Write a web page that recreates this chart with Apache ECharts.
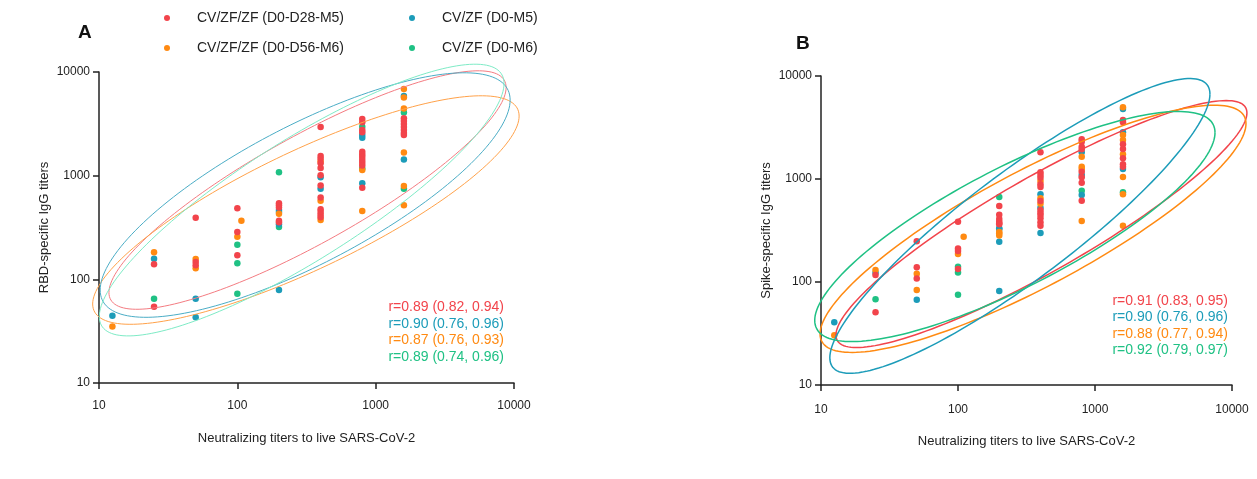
<!DOCTYPE html>
<html>
<head>
<meta charset="utf-8">
<script src="https://cdn.jsdelivr.net/npm/echarts@6/dist/echarts.min.js"></script>
<style>
html,body{margin:0;padding:0;background:#fff;}
#c{width:1257px;height:479px;}
</style>
</head>
<body>
<div id="c"></div>
<script>
// ---------- DATA ----------
const groupNames = ['CV/ZF/ZF (D0-D28-M5)', 'CV/ZF/ZF (D0-D56-M6)', 'CV/ZF (D0-M5)', 'CV/ZF (D0-M6)'];
const xTicks = [10, 100, 1000, 10000];
const yTicks = [10, 100, 1000, 10000];

// Panel A: RBD-specific IgG vs neutralizing titers
const redA = [[25,140],[25,54.5],[50,393],[50,147],[50,137],[100,484],[100,286],[100,171],
  [200,541],[200,517],[200,494],[200,367],[200,355],
  [400,2944],[400,1545],[400,1456],[400,1315],[400,1184],[400,1007],[400,806],[400,617],[400,473],[400,445],[400,420],[400,396],
  [800,3516],[800,3268],[800,2754],[800,2618],[800,1700],[800,1603],[800,1511],[800,1413],[800,1331],[800,1256],[800,764],
  [1600,3573],[1600,3365],[1600,3148],[1600,2944],[1600,2754],[1600,2576],[1600,2465]];
const orangeA = [[12.5,35],[25,182],[50,157],[50,128],[107,367],[100,258],[200,429],
  [400,1374],[400,572],[400,373],[800,1131],[800,456],
  [1600,6839],[1600,5683],[1600,4457],[1600,1677],[1600,795],[1600,517]];
const blueA = [[12.5,44.6],[25,158],[50,65],[50,43],[200,466],[200,445],[200,339],[200,79],
  [400,963],[400,748],[800,2465],[800,2323],[800,843],[1600,5870],[1600,1435]];
const greenA = [[25,65],[100,216],[100,143],[100,72.6],[200,1077],[200,319],[800,2965],[800,1170],[1600,4074],[1600,748]];

// Panel B: Spike-specific IgG vs neutralizing titers
const redB = [[25,117],[25,50.8],[50,248],[50,139],[50,108],[100,385],[100,211],[100,200],[100,134],
  [200,547],[200,450],[200,409],[200,385],[200,372],[200,364],
  [400,1816],[400,1161],[400,1094],[400,1030],[400,889],[400,836],[400,611],[400,500],[400,471],[400,447],[400,415],[400,380],[400,352],
  [800,2427],[800,2301],[800,2057],[800,1941],[800,1177],[800,1040],[800,921],[800,615],
  [1600,3743],[1600,3551],[1600,2174],[1600,1955],[1600,1588],[1600,1390],[1600,1316]];
const orangeB = [[12.5,30.4],[25,131],[50,120],[50,83.6],[110,275],[100,187],[200,305],[200,297],[200,282],
  [400,957],[400,650],[400,575],[800,1647],[800,1316],[800,1250],[800,391],
  [1600,4966],[1600,2673],[1600,2391],[1600,1737],[1600,1045],[1600,710],[1600,352]];
const blueB = [[12.5,40.6],[25,123],[50,67.3],[200,332],[200,327],[200,246],[200,81.8],
  [400,710],[400,526],[400,299],[800,1816],[800,1094],[800,700],[1600,4786],[1600,2838],[1600,1250]];
const greenB = [[25,68],[100,141],[100,124],[100,75],[200,668],[800,769],[1600,743]];

// Confidence ellipses: leftmost point, rightmost point (data units), half vertical chord (decades)
const ellLeftA  = [[11.8,74.6],[9.0,57.8],[10.2,78.9],[10.05,43.8]];
const ellRightA = [[8770,7079],[10890,3758],[9376,5358],[8472,7727]];
const ellHalfA  = [0.588,0.627,0.743,0.675];
const ellLeftB  = [[12.85,30.5],[9.84,31.3],[11.6,18.4],[9.0,42.4]];
const ellRightB = [[12850,4375],[12650,3443],[6902,6668],[7516,2818]];
const ellHalfB  = [0.524,0.631,0.641,0.646];

const corrA = ['r=0.89 (0.82, 0.94)','r=0.90 (0.76, 0.96)','r=0.87 (0.76, 0.93)','r=0.89 (0.74, 0.96)'];
const corrB = ['r=0.91 (0.83, 0.95)','r=0.90 (0.76, 0.96)','r=0.88 (0.77, 0.94)','r=0.92 (0.79, 0.97)'];

// ---------- STYLE ----------
const ptColors = ['#f2444b', '#ff8a12', '#1c9cb9', '#1fc184'];
const ellColorsA = ['#f47c82', '#ffa24a', '#4badc6', '#7eebc6'];
const ellColorsB = ['#f2444b', '#ff8a12', '#1c9cb9', '#1fc184'];
const corrColors = ['#f2444b', '#1c9cb9', '#ff8a12', '#1fc184'];
const FONT = 'Liberation Sans, Arial, sans-serif';

function ellipse(L, R, k) {
  const lx1 = Math.log10(L[0]), ly1 = Math.log10(L[1]);
  const lx2 = Math.log10(R[0]), ly2 = Math.log10(R[1]);
  const cx = (lx1 + lx2) / 2, cy = (ly1 + ly2) / 2;
  const ux = (lx2 - lx1) / 2, uy = (ly2 - ly1) / 2;
  const pts = [];
  for (let i = 0; i <= 180; i++) {
    const t = i / 180 * 2 * Math.PI;
    pts.push([Math.pow(10, cx + ux * Math.cos(t)), Math.pow(10, cy + uy * Math.cos(t) + k * Math.sin(t))]);
  }
  return pts;
}

function xAxis(grid, nameGap, margin) {
  return {
    type: 'log', logBase: 10, min: xTicks[0], max: xTicks[xTicks.length - 1], gridIndex: grid,
    name: 'Neutralizing titers to live SARS-CoV-2', nameLocation: 'middle', nameGap: nameGap, nameMoveOverlap: false,
    nameTextStyle: { fontFamily: FONT, fontSize: 13, color: '#222' },
    axisLine: { lineStyle: { color: '#222', width: 1.5 } },
    axisTick: { length: 6, lineStyle: { color: '#222', width: 1.5 } },
    axisLabel: { fontFamily: FONT, fontSize: 12, color: '#222', margin: margin, formatter: v => String(Math.round(v)) },
    minorTick: { show: false }, splitLine: { show: false }
  };
}
function yAxis(grid, name, nameGap) {
  return {
    type: 'log', logBase: 10, min: yTicks[0], max: yTicks[yTicks.length - 1], gridIndex: grid,
    name: name, nameLocation: 'middle', nameGap: nameGap, nameRotate: 90, nameMoveOverlap: false,
    nameTextStyle: { fontFamily: FONT, fontSize: 13, color: '#222' },
    axisLine: { show: true, lineStyle: { color: '#222', width: 1.5 } },
    axisTick: { show: true, length: 6, lineStyle: { color: '#222', width: 1.5 } },
    axisLabel: { fontFamily: FONT, fontSize: 12, color: '#222', margin: 9, formatter: v => String(Math.round(v)) },
    splitLine: { show: false }
  };
}

const ptsA = [redA, orangeA, blueA, greenA];
const ptsB = [redB, orangeB, blueB, greenB];
const series = [];

function ellipseSeries(axisIdx, L, R, K, colors, width) {
  const curves = [0,1,2,3].map(i => ellipse(L[i], R[i], K[i]));
  return {
    type: 'custom', name: 'ellipses' + axisIdx, xAxisIndex: axisIdx, yAxisIndex: axisIdx,
    coordinateSystem: 'cartesian2d', clip: false, silent: true, z: 3,
    data: L.map((p, i) => [p[0], p[1], i]),
    encode: { x: 0, y: 1 },
    renderItem: function (params, api) {
      const i = api.value(2);
      const pts = curves[i].map(p => api.coord(p));
      return { type: 'polyline', shape: { points: pts },
        style: { stroke: colors[i], fill: null, lineWidth: width } };
    }
  };
}
series.push(ellipseSeries(0, ellLeftA, ellRightA, ellHalfA, ellColorsA, 1));
series.push(ellipseSeries(1, ellLeftB, ellRightB, ellHalfB, ellColorsB, 1.5));

// points (draw red last)
[3,2,1,0].forEach(i => {
  series.push({ type: 'scatter', name: groupNames[i], xAxisIndex: 0, yAxisIndex: 0, data: ptsA[i], symbolSize: 6.5,
    itemStyle: { color: ptColors[i], opacity: 1 }, z: 2 });
  series.push({ type: 'scatter', name: groupNames[i], xAxisIndex: 1, yAxisIndex: 1, data: ptsB[i], symbolSize: 6.5,
    itemStyle: { color: ptColors[i], opacity: 1 }, z: 2 });
});

function legendItem(i, left, top) {
  return { data: [groupNames[i]], left: left, top: top, orient: 'horizontal', icon: 'circle',
    itemWidth: 6, itemHeight: 6, padding: 0,
    textStyle: { fontFamily: FONT, fontSize: 14, color: '#222', padding: [0, 0, 0, 22] } };
}

const graphics = [
  { type: 'text', left: 78, top: 23, style: { text: 'A', fontFamily: FONT, fontSize: 19, fontWeight: 'bold', fill: '#111' } },
  { type: 'text', left: 796, top: 34, style: { text: 'B', fontFamily: FONT, fontSize: 19, fontWeight: 'bold', fill: '#111' } }
];
const corrYA = [307, 324, 340, 357], corrYB = [301, 317.5, 334, 350];
corrA.forEach((t, i) => graphics.push({ type: 'text', x: 504, y: corrYA[i],
  style: { text: t, fontFamily: FONT, fontSize: 14, fill: corrColors[i], textAlign: 'right', textVerticalAlign: 'middle' } }));
corrB.forEach((t, i) => graphics.push({ type: 'text', x: 1228, y: corrYB[i],
  style: { text: t, fontFamily: FONT, fontSize: 14, fill: corrColors[i], textAlign: 'right', textVerticalAlign: 'middle' } }));

const chart = echarts.init(document.getElementById('c'), null, { renderer: 'canvas' });
chart.setOption({
  animation: false,
  backgroundColor: '#fff',
  grid: [
    { left: 99, top: 72, width: 415, height: 311 },
    { left: 821, top: 76, width: 411, height: 309 }
  ],
  xAxis: [xAxis(0, 49, 17), xAxis(1, 50, 19)],
  yAxis: [yAxis(0, 'RBD-specific IgG titers', 48), yAxis(1, 'Spike-specific IgG titers', 48)],
  legend: [legendItem(0, 164, 11), legendItem(1, 164, 41), legendItem(2, 409, 11), legendItem(3, 409, 41)],
  graphic: graphics,
  series: series
});
</script>
</body>
</html>
